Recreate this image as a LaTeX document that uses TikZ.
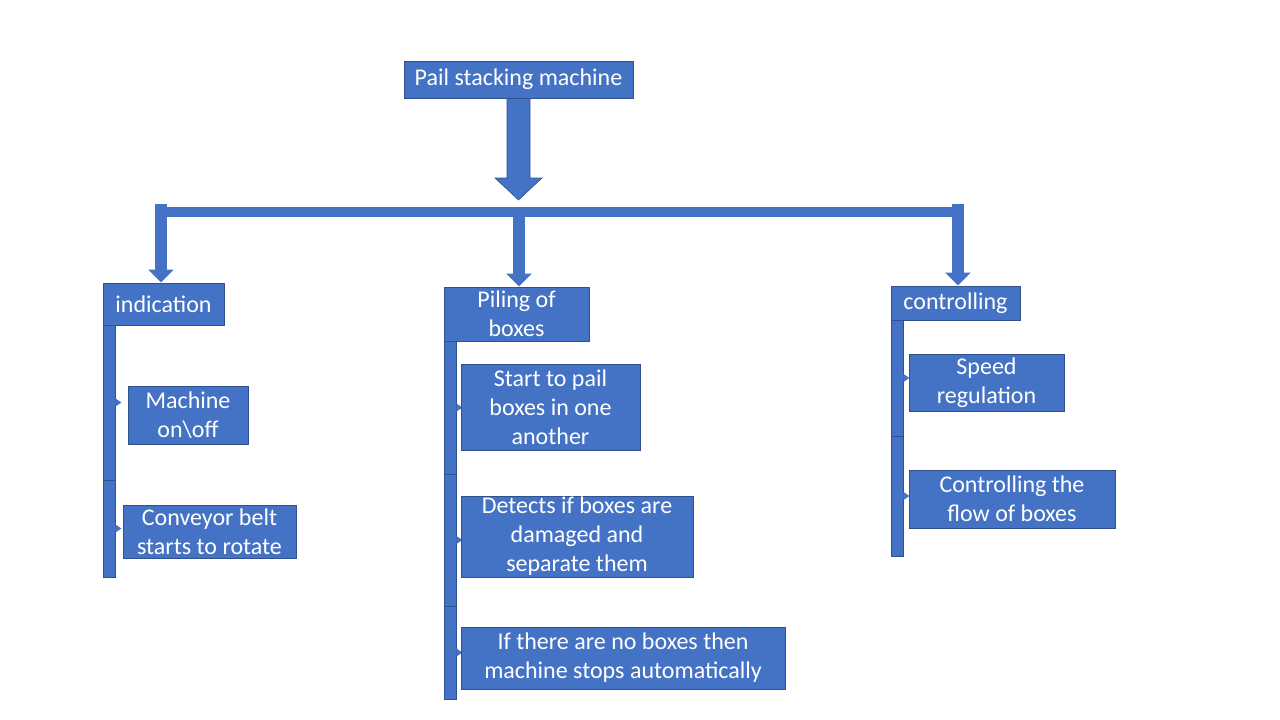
\documentclass[tikz,border=0pt]{standalone}
\usepackage{fontspec}
\setmainfont{Carlito}
\usepackage{xcolor}
\definecolor{boxfill}{HTML}{4472C4}
\definecolor{boxedge}{HTML}{2F528F}
\usepackage{tikz}
\usetikzlibrary{arrows.meta, positioning}

\begin{document}
\begin{tikzpicture}[
  x=1pt, y=-1pt,
  font=\fontsize{24}{29}\selectfont,
  box/.style={
    draw=boxedge, fill=boxfill, text=white, align=center,
    inner sep=0pt, line width=1pt
  },
  barseg/.style={
    draw=boxedge, fill=boxfill, line width=0.8pt,
    minimum width=12pt, inner sep=0pt
  },
  stem/.style={draw=boxfill, line width=12pt, -{Triangle[width=25pt, length=13pt]}},
  bus/.style={draw=boxfill, line width=10pt}
]
  \useasboundingbox (0,0) rectangle (1280,720);

  % top
  \node[box, minimum width=229pt, minimum height=37pt] (top) at (518.5,79.5) {Pail stacking machine};
  \coordinate (hub) at (518.5,200);
  \fill[boxfill, draw=boxedge, line width=0.6pt]
    ([xshift=-11.5pt]top.south) -- ([xshift=-11.5pt,yshift=22pt]hub)
    -- ([xshift=-23.5pt,yshift=22pt]hub) -- (hub)
    -- ([xshift=23.5pt,yshift=22pt]hub) -- ([xshift=11.5pt,yshift=22pt]hub)
    -- ([xshift=11.5pt]top.south) -- cycle;

  % level one
  \node[box, minimum width=121pt, minimum height=42pt] (ind) at (163.5,304) {indication};
  \node[box, minimum width=145pt, minimum height=54pt] (pil) at (516.5,314) {Piling of\\boxes};
  \node[box, minimum width=129pt, minimum height=34pt] (ctl) at (955.5,303) {controlling};

  \coordinate (busL) at (161,211.5);
  \coordinate (busM) at (519,211.5);
  \coordinate (busR) at (958,211.5);
  \draw[bus] ([xshift=-6pt]busL) -- ([xshift=6pt]busR);
  \draw[stem] ([yshift=8pt]busL) -- (busL |- ind.north);
  \draw[stem] ([yshift=4pt]busM) -- (busM |- pil.north);
  \draw[stem] ([yshift=8pt]busR) -- (busR |- ctl.north);

  % bracket bars
  \foreach \n/\x/\y/\h in {ind1/109/402.5/155, ind2/109/528.5/97,
                           pil1/450/407.5/133, pil2/450/540/132, pil3/450/652.5/93,
                           ctl1/897/378/116, ctl2/897/496/120} {
    \node[barseg, minimum height=\h pt] (\n) at (\x,\y) {};
  }
  \foreach \s in {ind1,ind2,pil1,pil2,pil3,ctl1,ctl2} {
    \fill[boxfill] ([yshift=4pt]\s.east) -- ([xshift=6pt]\s.east) -- ([yshift=-4pt]\s.east) -- cycle;
  }

  % level two
  \node[box, minimum width=120pt, minimum height=58pt] (mach) at (188,415) {Machine\\on\textbackslash off};
  \node[box, minimum width=173pt, minimum height=53pt] (conv) at (209.5,531.5) {Conveyor belt\\starts to rotate};

  \node[box, minimum width=179pt, minimum height=86pt] (start) at (550.5,407) {Start to pail\\boxes in one\\another};
  \node[box, minimum width=232pt, minimum height=81pt] (detect) at (577,536.5) {Detects if boxes are\\damaged and\\separate them};
  \node[box, minimum width=324pt, minimum height=62pt] (nobox) at (623,658) {If there are no boxes then\\machine stops automatically};

  \node[box, minimum width=155pt, minimum height=57pt] (speed) at (986.5,382.5) {Speed\\regulation};
  \node[box, minimum width=206pt, minimum height=58pt] (flow) at (1012,499) {Controlling the\\flow of boxes};
\end{tikzpicture}
\end{document}
